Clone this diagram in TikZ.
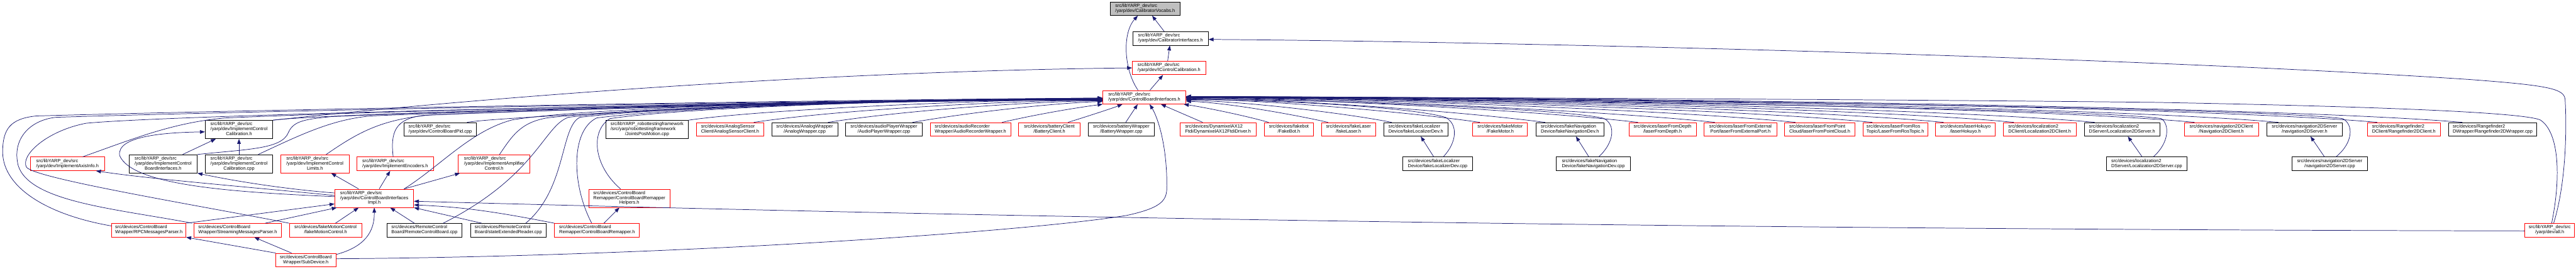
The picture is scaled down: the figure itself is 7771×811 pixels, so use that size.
\documentclass[tikz,border=0pt]{standalone}
\usepackage{fontspec}
\setmainfont{Liberation Sans}
\usetikzlibrary{arrows.meta}
\definecolor{edgeblue}{HTML}{191970}
\definecolor{boxred}{HTML}{FF0000}
\definecolor{boxgray}{HTML}{BFBFBF}
\newcommand{\twol}[2]{\begin{tabular}{@{}l@{}}#1\\\multicolumn{1}{@{}c@{}}{#2}\end{tabular}}
\newcommand{\threel}[3]{\begin{tabular}{@{}l@{}}#1\\#2\\\multicolumn{1}{@{}c@{}}{#3}\end{tabular}}
\tikzset{
  filebox/.style={draw=black, line width=1.5pt, fill=white, inner sep=0pt, minimum height=41pt, font=\fontsize{14}{15}\selectfont},
  redbox/.style={filebox, draw=boxred},
  tallbox/.style={minimum height=55pt},
  incl/.style={draw=edgeblue, line width=1.4pt, -{Triangle[length=15pt,width=11pt]}}
}
\begin{document}
\begin{tikzpicture}[x=1pt, y=-1pt]
\fill[white] (0,0) rectangle (7771,811);
\useasboundingbox (0,0) rectangle (7771,811);

\node[filebox, fill=boxgray, minimum width=209] (vocabs) at (3454.5,26) {\twol{src/libYARP\_dev/src}{/yarp/dev/CalibratorVocabs.h}};
\node[filebox, minimum width=228] (calint) at (3531,116) {\twol{src/libYARP\_dev/src}{/yarp/dev/CalibratorInterfaces.h}};
\node[redbox, minimum width=221] (icalib) at (3526.5,205) {\twol{src/libYARP\_dev/src}{/yarp/dev/IControlCalibration.h}};
\node[redbox, minimum width=250] (hub) at (3452,293.5) {\twol{src/libYARP\_dev/src}{/yarp/dev/ControlBoardInterfaces.h}};

\node[filebox, tallbox, minimum width=204] (implcalibh) at (721,391) {\threel{src/libYARP\_dev/src}{/yarp/dev/ImplementControl}{Calibration.h}};
\node[filebox, minimum width=218] (cbpid) at (1328,390.5) {\twol{src/libYARP\_dev/src}{/yarp/dev/ControlBoardPid.cpp}};
\node[filebox, tallbox, minimum width=250] (joints) at (1952,391) {\threel{src/libYARP\_robottestingframework}{/src/yarp/robottestingframework}{/JointsPosMotion.cpp}};
\node[redbox, minimum width=203] (analogclient) at (2202.5,390.5) {\twol{src/devices/AnalogSensor}{Client/AnalogSensorClient.h}};
\node[filebox, minimum width=199] (analogwrapper) at (2427.5,390.5) {\twol{src/devices/AnalogWrapper}{/AnalogWrapper.cpp}};
\node[filebox, minimum width=231] (audioplayer) at (2666.5,390.5) {\twol{src/devices/audioPlayerWrapper}{/AudioPlayerWrapper.cpp}};
\node[redbox, minimum width=243] (audiorec) at (2927.5,390.5) {\twol{src/devices/audioRecorder}{Wrapper/AudioRecorderWrapper.h}};
\node[redbox, minimum width=185] (batclient) at (3165.5,390.5) {\twol{src/devices/batteryClient}{/BatteryClient.h}};
\node[filebox, minimum width=201] (batwrapper) at (3382.5,390.5) {\twol{src/devices/batteryWrapper}{/BatteryWrapper.cpp}};
\node[redbox, minimum width=231] (dynamixel) at (3674.5,390.5) {\twol{src/devices/DynamixelAX12}{Ftdi/DynamixelAX12FtdiDriver.h}};
\node[redbox, minimum width=148] (fakebot) at (3888,390.5) {\twol{src/devices/fakebot}{/FakeBot.h}};
\node[redbox, minimum width=162] (fakelaser) at (4068,390.5) {\twol{src/devices/fakeLaser}{/fakeLaser.h}};
\node[filebox, minimum width=194] (fakelocalh) at (4271,390.5) {\twol{src/devices/fakeLocalizer}{Device/fakeLocalizerDev.h}};
\node[redbox, minimum width=165] (fakemotor) at (4525.5,390.5) {\twol{src/devices/fakeMotor}{/FakeMotor.h}};
\node[filebox, minimum width=206] (fakenavh) at (4736,390.5) {\twol{src/devices/fakeNavigation}{Device/fakeNavigationDev.h}};
\node[redbox, minimum width=203] (laserdepth) at (5015.5,390.5) {\twol{src/devices/laserFromDepth}{/laserFromDepth.h}};
\node[redbox, minimum width=219] (laserext) at (5250.5,390.5) {\twol{src/devices/laserFromExternal}{Port/laserFromExternalPort.h}};
\node[redbox, minimum width=211] (laserpc) at (5489.5,390.5) {\twol{src/devices/laserFromPoint}{Cloud/laserFromPointCloud.h}};
\node[redbox, minimum width=195] (laserros) at (5717.5,390.5) {\twol{src/devices/laserFromRos}{Topic/LaserFromRosTopic.h}};
\node[redbox, minimum width=180] (hokuyo) at (5929,390.5) {\twol{src/devices/laserHokuyo}{/laserHokuyo.h}};
\node[redbox, minimum width=220] (loc2dclient) at (6153,390.5) {\twol{src/devices/localization2}{DClient/Localization2DClient.h}};
\node[filebox, minimum width=227] (loc2dserverh) at (6401.5,390.5) {\twol{src/devices/localization2}{DServer/Localization2DServer.h}};
\node[redbox, minimum width=224] (nav2dclient) at (6701,390.5) {\twol{src/devices/navigation2DClient}{/Navigation2DClient.h}};
\node[filebox, minimum width=228] (nav2dserverh) at (6952,390.5) {\twol{src/devices/navigation2DServer}{/navigation2DServer.h}};
\node[redbox, minimum width=219] (rf2dclient) at (7251.5,390.5) {\twol{src/devices/Rangefinder2}{DClient/Rangefinder2DClient.h}};
\node[filebox, minimum width=267] (rf2dwrapper) at (7519.5,390.5) {\twol{src/devices/Rangefinder2}{DWrapper/Rangefinder2DWrapper.cpp}};

\node[redbox, minimum width=223] (axisinfo) at (203.5,494.5) {\twol{src/libYARP\_dev/src}{/yarp/dev/ImplementAxisInfo.h}};
\node[filebox, tallbox, minimum width=206] (implcbi) at (492,494.5) {\threel{src/libYARP\_dev/src}{/yarp/dev/ImplementControl}{BoardInterfaces.h}};
\node[filebox, tallbox, minimum width=204] (implcalibcpp) at (721,494.5) {\threel{src/libYARP\_dev/src}{/yarp/dev/ImplementControl}{Calibration.cpp}};
\node[redbox, tallbox, minimum width=206] (limits) at (950,494.5) {\threel{src/libYARP\_dev/src}{/yarp/dev/ImplementControl}{Limits.h}};
\node[redbox, minimum width=230] (encoders) at (1192,494.5) {\twol{src/libYARP\_dev/src}{/yarp/dev/ImplementEncoders.h}};
\node[redbox, tallbox, minimum width=217] (amplifier) at (1490.5,494.5) {\threel{src/libYARP\_dev/src}{/yarp/dev/ImplementAmplifier}{Control.h}};
\node[filebox, minimum width=210] (fakelocalcpp) at (4337,494.5) {\twol{src/devices/fakeLocalizer}{Device/fakeLocalizerDev.cpp}};
\node[filebox, minimum width=223] (fakenavcpp) at (4806.5,494.5) {\twol{src/devices/fakeNavigation}{Device/fakeNavigationDev.cpp}};
\node[filebox, minimum width=242] (loc2dservercpp) at (6476,494.5) {\twol{src/devices/localization2}{DServer/Localization2DServer.cpp}};
\node[filebox, minimum width=228] (nav2dservercpp) at (7028,494.5) {\twol{src/devices/navigation2DServer}{/navigation2DServer.cpp}};

\node[redbox, tallbox, minimum width=238] (impl) at (1129,598.5) {\threel{src/libYARP\_dev/src}{/yarp/dev/ControlBoardInterfaces}{Impl.h}};
\node[redbox, tallbox, minimum width=245] (helpers) at (1898.5,598.5) {\threel{src/devices/ControlBoard}{Remapper/ControlBoardRemapper}{Helpers.h}};

\node[redbox, minimum width=224] (rpc) at (449,695) {\twol{src/devices/ControlBoard}{Wrapper/RPCMessagesParser.h}};
\node[redbox, minimum width=264] (streaming) at (717,695) {\twol{src/devices/ControlBoard}{Wrapper/StreamingMessagesParser.h}};
\node[redbox, minimum width=218] (fakemc) at (982,695) {\twol{src/devices/fakeMotionControl}{/fakeMotionControl.h}};
\node[filebox, minimum width=227] (remotecb) at (1280.5,695) {\twol{src/devices/RemoteControl}{Board/RemoteControlBoard.cpp}};
\node[filebox, minimum width=229] (stateext) at (1533.5,695) {\twol{src/devices/RemoteControl}{Board/stateExtendedReader.cpp}};
\node[redbox, minimum width=256] (remapper) at (1801,695) {\twol{src/devices/ControlBoard}{Remapper/ControlBoardRemapper.h}};
\node[redbox, minimum width=149] (allh) at (7691.5,695) {\twol{src/libYARP\_dev/src}{/yarp/dev/all.h}};

\node[redbox, minimum width=183] (subdevice) at (922.5,785) {\twol{src/devices/ControlBoard}{Wrapper/SubDevice.h}};

\draw[incl] ([xshift=-19]calint.north) -- ([xshift=21]vocabs.south);
\draw[incl] ([xshift=-19]hub.north) .. controls (3390,210) and (3385,100) .. ([xshift=-22]vocabs.south);
\draw[incl] ([xshift=-4]icalib.north) -- ([xshift=-2]calint.south);
\draw[incl] ([xshift=17]hub.north) -- ([xshift=-18]icalib.south);
\draw[incl] (implcalibh.north east) .. controls (1500,290) and (2500,215) .. (icalib.west);
\draw[incl] ([xshift=12]allh.north) .. controls (7745,540) and (7742,360) .. (7738,300) .. controls (7735,268) and (7690,258) .. (7450,240) .. controls (6400,170) and (4500,125) .. ([yshift=-3]calint.east);
\draw[incl] ([xshift=6]allh.north) .. controls (7725,540) and (7722,400) .. (7663,362) .. controls (7600,335) and (7000,318) .. (6500,309) .. controls (5500,298) and (4000,293) .. ([yshift=2]hub.east);

\foreach \n/\s/\ax/\ay/\bx/\by/\e in {
  fakelaser/-62/3900/345/3700/310/-12,
  fakelocalh/-73/4050/340/3750/306/-9,
  fakemotor/-61.5/4200/332/3800/302/-5,
  fakenavh/-75/4350/330/3850/299/-3,
  laserdepth/-74.5/4600/330/3900/297/-1,
  laserext/-77.5/4800/330/3950/296/0,
  laserpc/-73.5/5000/328/4000/295/0,
  laserros/-69.5/5200/326/4050/295/1,
  hokuyo/-66/5400/325/4100/294/1,
  loc2dclient/-78/5600/323/4150/294/1,
  loc2dserverh/-82.5/5800/322/4200/293/2,
  nav2dclient/-81/6100/320/4300/293/2,
  nav2dserverh/-79/6300/318/4400/293/2,
  rf2dclient/-80.5/6600/318/4500/292/2,
  rf2dwrapper/-91.5/6800/317/4600/292/2}
  \draw[incl] ([xshift=\s]\n.north) .. controls (\ax,\ay) and (\bx,\by) .. ([yshift=\e]hub.east);

\draw[incl] ([xshift=17]fakelocalcpp.north) .. controls (4395,430) and (4400,375) .. (4360,354) .. controls (4250,322) and (3850,302) .. ([yshift=-7]hub.east);
\draw[incl] ([xshift=16.5]fakenavcpp.north) .. controls (4870,430) and (4875,375) .. (4837,357) .. controls (4700,325) and (3900,300) .. ([yshift=-4]hub.east);
\draw[incl] ([xshift=20]loc2dservercpp.north) .. controls (6545,430) and (6545,375) .. (6520,358) .. controls (6300,325) and (4250,296) .. ([yshift=-2]hub.east);
\draw[incl] ([xshift=19]nav2dservercpp.north) .. controls (7100,430) and (7100,375) .. (7067,358) .. controls (6800,322) and (4450,294) .. ([yshift=-1]hub.east);
\draw[incl] ([xshift=-12]fakelocalcpp.north) -- ([xshift=15]fakelocalh.south);
\draw[incl] ([xshift=-13.5]fakenavcpp.north) -- ([xshift=18]fakenavh.south);
\draw[incl] ([xshift=-14]loc2dservercpp.north) -- ([xshift=17.5]loc2dserverh.south);
\draw[incl] ([xshift=-16]nav2dservercpp.north) -- ([xshift=18]nav2dserverh.south);

\draw[incl] ([xshift=-61]fakebot.north) .. controls (3760,350) and (3640,325) .. ([xshift=119]hub.south);
\draw[incl] ([xshift=-46.5]dynamixel.north) -- ([xshift=50]hub.south);
\draw[incl] ([xshift=13.5]batwrapper.north) -- ([xshift=-20]hub.south);
\draw[incl] ([xshift=56.5]batclient.north) .. controls (3300,345) and (3360,325) .. ([xshift=-66]hub.south);
\draw[incl] ([xshift=95.5]audiorec.north) .. controls (3150,340) and (3270,322) .. (hub.south west);

\foreach \n/\s/\ax/\ay/\bx/\by/\e in {
  audioplayer/86.5/2950/335/3200/310/-13,
  analogwrapper/70.5/2750/330/3150/305/-11,
  analogclient/71.5/2550/328/3100/302/-9,
  joints/125/2300/330/3000/300/-6,
  cbpid/81/1500/352/2600/300/-4}
  \draw[incl] ([xshift=\s]\n.north) .. controls (\ax,\ay) and (\bx,\by) .. ([yshift=\e]hub.west);

\draw[incl] (implcalibh.north east) .. controls (1000,340) and (2500,305) .. ([yshift=-2]hub.west);
\draw[incl] ([yshift=13]rpc.west) .. controls (150,650) and (10,570) .. (8,460) .. controls (8,390) and (30,358) .. (110,350) .. controls (1000,325) and (2900,296) .. ([yshift=-3]hub.west);
\draw[incl] ([xshift=-137]streaming.north) .. controls (350,630) and (90,610) .. (55,500) .. controls (35,420) and (90,362) .. (170,354) .. controls (1000,328) and (2900,297) .. ([yshift=-4]hub.west);
\draw[incl] (fakemc.north west) .. controls (600,620) and (110,540) .. (80,505) .. controls (60,470) and (140,395) .. (260,372) .. controls (600,340) and (2900,298) .. ([yshift=-5]hub.west);
\draw[incl] ([xshift=46]axisinfo.north) .. controls (400,420) and (520,370) .. (680,356) .. controls (1400,325) and (2900,297) .. ([yshift=-6]hub.west);
\draw[incl] (implcbi.north east) .. controls (750,450) and (850,450) .. (870,400) .. controls (885,365) and (920,360) .. (1000,352) .. controls (1600,325) and (2900,298) .. ([yshift=-7]hub.west);
\draw[incl] ([xshift=58]implcalibcpp.north) .. controls (900,410) and (1000,360) .. (1120,350) .. controls (1700,325) and (2900,298) .. ([yshift=-8]hub.west);
\draw[incl] ([xshift=34]limits.north) .. controls (1080,400) and (1150,360) .. (1300,347) .. controls (1800,325) and (2900,299) .. ([yshift=-9]hub.west);
\draw[incl] ([xshift=-6]encoders.north) .. controls (1178,400) and (1190,358) .. (1280,348) .. controls (1800,325) and (2900,299) .. ([yshift=-10]hub.west);
\draw[incl] ([xshift=16.5]amplifier.north) .. controls (1545,410) and (1570,370) .. (1650,356) .. controls (1950,320) and (2900,296) .. ([yshift=-11]hub.west);
\draw[incl] ([xshift=90]impl.north) .. controls (1330,500) and (1420,395) .. (1545,362) .. controls (1800,318) and (2900,296) .. ([yshift=-9]hub.west);
\draw[incl] ([xshift=56.5]remotecb.north) .. controls (1620,530) and (1640,380) .. (1715,354) .. controls (2000,318) and (2900,297) .. ([yshift=-8]hub.west);
\draw[incl] ([xshift=52.5]stateext.north) .. controls (1710,570) and (1690,380) .. (1750,354) .. controls (2050,318) and (2900,297) .. ([yshift=-7]hub.west);
\draw[incl] ([xshift=-16]remapper.north) .. controls (1725,560) and (1720,395) .. (1800,356) .. controls (2100,318) and (2900,297) .. ([yshift=-6]hub.west);
\draw[incl] ([xshift=-26.5]helpers.north) .. controls (1790,500) and (1780,395) .. (1840,358) .. controls (2100,320) and (2900,298) .. ([yshift=-5]hub.west);
\draw[incl] ([yshift=4]subdevice.east) .. controls (2000,775) and (3100,700) .. (3400,650) .. controls (3515,625) and (3520,600) .. (3520,560) .. controls (3520,430) and (3490,350) .. ([xshift=16]hub.south);

\draw[incl] ([yshift=8.5]impl.west) .. controls (700,560) and (450,540) .. ([xshift=86]axisinfo.south);
\draw[incl] ([yshift=16]impl.west) .. controls (850,570) and (700,545) .. (implcbi.south east);
\draw[incl] ([yshift=5]impl.west) .. controls (700,580) and (400,560) .. (361,470) .. controls (350,410) and (500,400) .. ([yshift=-7]implcalibh.west);
\draw[incl] ([xshift=-47]impl.north) -- ([xshift=49]limits.south);
\draw[incl] ([xshift=15]impl.north) -- ([xshift=-15]encoders.south);
\draw[incl] ([xshift=90]impl.north) -- ([xshift=-103]amplifier.south);
\draw[incl] (rpc.north east) -- ([yshift=-17]impl.west);
\draw[incl] ([xshift=83]streaming.north) -- ([xshift=-113]impl.south);
\draw[incl] ([xshift=30]fakemc.north) -- ([xshift=-47]impl.south);
\draw[incl] ([xshift=-30.5]remotecb.north) -- ([xshift=48]impl.south);
\draw[incl] ([xshift=-80.5]stateext.north) -- (impl.south east);
\draw[incl] (remapper.north west) .. controls (1500,640) and (1400,625) .. ([yshift=-20]impl.east);
\draw[incl] ([yshift=-2]allh.west) .. controls (5000,692) and (3000,655) .. ([yshift=-9]impl.east);
\draw[incl] ([yshift=17]subdevice.east) .. controls (1100,745) and (1130,700) .. (impl.south);
\draw[incl] ([xshift=-91]subdevice.north) -- (rpc.south east);
\draw[incl] ([xshift=-43]subdevice.north) -- ([xshift=50]streaming.south);
\draw[incl] ([xshift=21]remapper.north) -- ([xshift=-30]helpers.south);
\draw[incl] ([xshift=59]implcbi.north) -- ([xshift=-70]implcalibh.south);
\draw[incl] (implcalibcpp.north) -- (implcalibh.south);
\end{tikzpicture}
\end{document}
